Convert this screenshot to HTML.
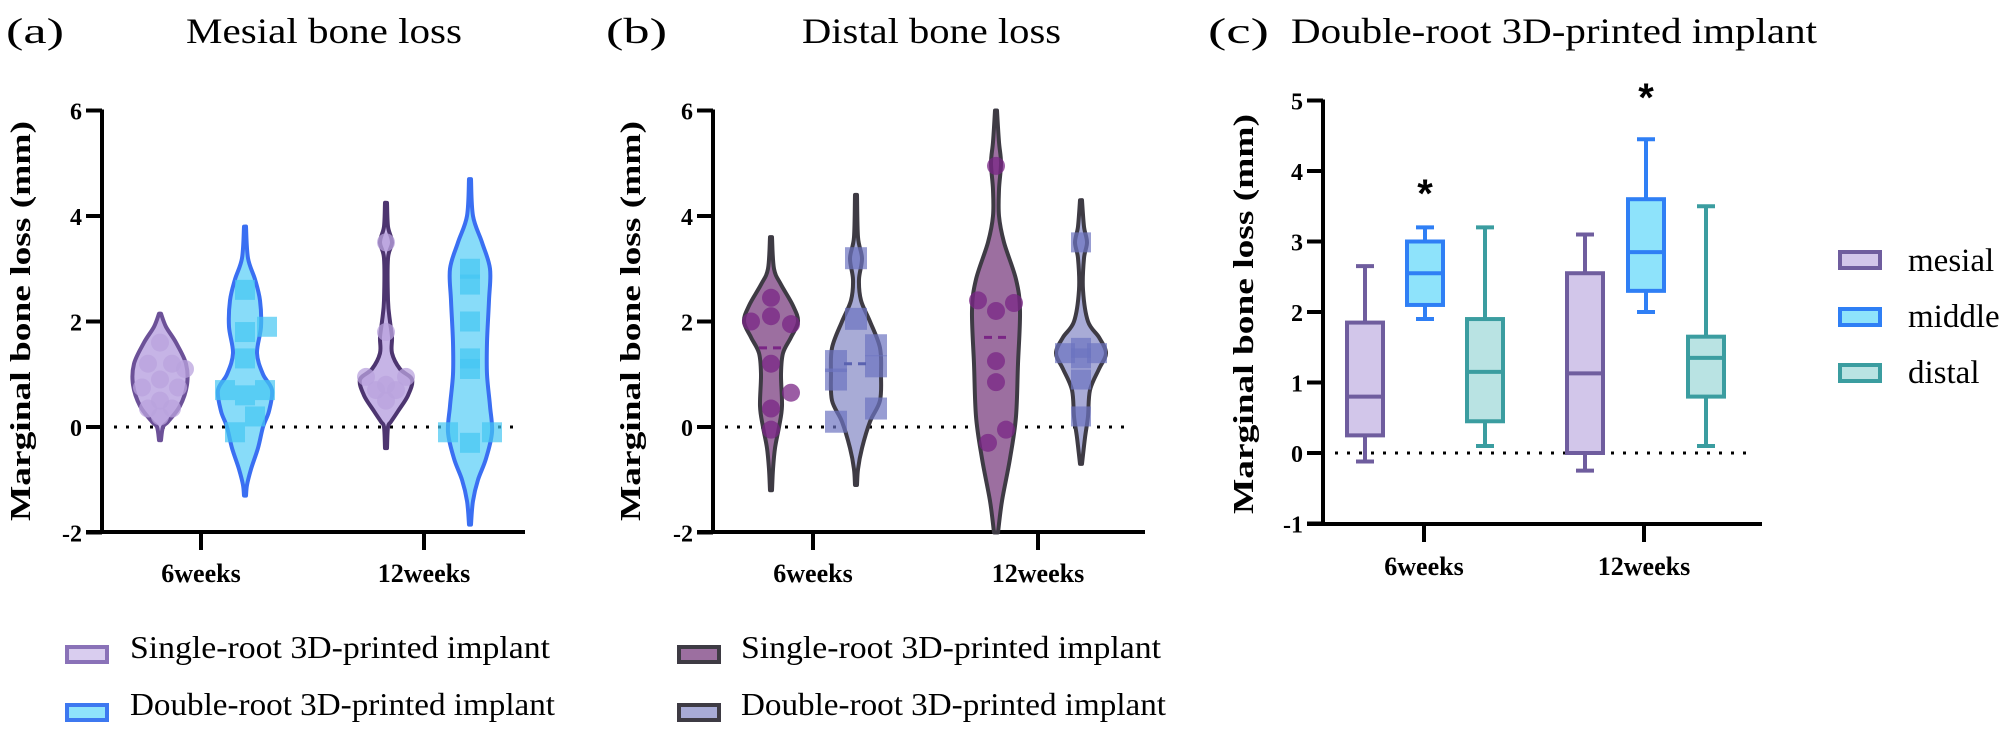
<!DOCTYPE html>
<html><head><meta charset="utf-8"><style>
html,body{margin:0;padding:0;background:#fff;}
svg{display:block;}
text{font-family:"Liberation Serif",serif;}
.t{font-size:36px;}
.b{font-weight:bold;}
</style></head><body>
<svg id="s" width="2012" height="734" viewBox="0 0 2012 734" xmlns="http://www.w3.org/2000/svg">
<!-- titles -->
<text class="t" x="6" y="43" textLength="58" lengthAdjust="spacingAndGlyphs">(a)</text>
<text class="t" x="186" y="43" textLength="276" lengthAdjust="spacingAndGlyphs">Mesial bone loss</text>
<text class="t" x="606" y="43" textLength="61" lengthAdjust="spacingAndGlyphs">(b)</text>
<text class="t" x="802" y="43" textLength="259" lengthAdjust="spacingAndGlyphs">Distal bone loss</text>
<text class="t" x="1208" y="43" textLength="61" lengthAdjust="spacingAndGlyphs">(c)</text>
<text class="t" x="1291" y="43" textLength="526" lengthAdjust="spacingAndGlyphs">Double-root 3D-printed implant</text>

<!-- y labels -->
<text class="b" font-size="28" transform="translate(30,321) rotate(-90)" text-anchor="middle" textLength="400" lengthAdjust="spacingAndGlyphs">Marginal bone loss (mm)</text>
<text class="b" font-size="28" transform="translate(640,321) rotate(-90)" text-anchor="middle" textLength="400" lengthAdjust="spacingAndGlyphs">Marginal bone loss (mm)</text>
<text class="b" font-size="28" transform="translate(1253,314) rotate(-90)" text-anchor="middle" textLength="400" lengthAdjust="spacingAndGlyphs">Marginal bone loss (mm)</text>

<g id="plots"></g>

<!-- x labels -->
<g class="b" font-size="26" text-anchor="middle">
<text x="201" y="582">6weeks</text><text x="424" y="582">12weeks</text>
<text x="813" y="582">6weeks</text><text x="1038" y="582">12weeks</text>
<text x="1424" y="575">6weeks</text><text x="1644" y="575">12weeks</text>
</g>

<!-- legends a/b -->
<g font-size="32">
<rect x="67" y="647" width="40" height="15" fill="#d9cdef" stroke="#8a72b8" stroke-width="4"/>
<text x="130" y="658" textLength="420" lengthAdjust="spacingAndGlyphs">Single-root 3D-printed implant</text>
<rect x="67" y="705" width="40" height="15" fill="#8fe3fb" stroke="#3d78f0" stroke-width="4"/>
<text x="130" y="715" textLength="425" lengthAdjust="spacingAndGlyphs">Double-root 3D-printed implant</text>
<rect x="679" y="647" width="40" height="15" fill="#9c6fa0" stroke="#3e3b44" stroke-width="4"/>
<text x="741" y="658" textLength="420" lengthAdjust="spacingAndGlyphs">Single-root 3D-printed implant</text>
<rect x="679" y="705" width="40" height="15" fill="#a8abd6" stroke="#3e3b44" stroke-width="4"/>
<text x="741" y="715" textLength="425" lengthAdjust="spacingAndGlyphs">Double-root 3D-printed implant</text>
</g>
<!-- legend c -->
<g font-size="33">
<rect x="1840" y="252" width="40" height="16" fill="#d2c6ea" stroke="#6f5d9e" stroke-width="4"/>
<text x="1908" y="271">mesial</text>
<rect x="1840" y="309" width="40" height="16" fill="#8ee3fb" stroke="#2f7ff5" stroke-width="4"/>
<text x="1908" y="327">middle</text>
<rect x="1840" y="365" width="40" height="16" fill="#b9e3e3" stroke="#3b9da0" stroke-width="4"/>
<text x="1908" y="383">distal</text>
</g>
<g font-size="40" class="b" text-anchor="middle" font-family="Liberation Sans, sans-serif">
<text x="1425" y="207" style="font-family:'Liberation Sans',sans-serif">*</text>
<text x="1646" y="111" style="font-family:'Liberation Sans',sans-serif">*</text>
</g>
</svg>
<script>
(function(){
var NS="http://www.w3.org/2000/svg", g=document.getElementById("plots");
function el(n,a){var e=document.createElementNS(NS,n);for(var k in a)e.setAttribute(k,a[k]);g.appendChild(e);return e;}
function txt(x,y,s,anchor,size){var e=el("text",{x:x,y:y,"text-anchor":anchor||"end","font-size":size||24,"font-weight":"bold"});e.textContent=s;}
// axes
function axes(ax,y0,yPer,vals,xEnd,ticks,yBottom){
  el("line",{x1:ax,y1:y0-yPer*vals[vals.length-1]-1,x2:ax,y2:yBottom+2,stroke:"#000","stroke-width":4});
  el("line",{x1:ax-16,y1:yBottom,x2:xEnd,y2:yBottom,stroke:"#000","stroke-width":4});
  vals.forEach(function(v){var y=y0-yPer*v;el("line",{x1:ax-16,y1:y,x2:ax,y2:y,stroke:"#000","stroke-width":4});txt(ax-20,y+9,String(v));});
  ticks.forEach(function(x){el("line",{x1:x,y1:yBottom,x2:x,y2:yBottom+18,stroke:"#000","stroke-width":4});});
  el("line",{x1:ax+12,y1:y0,x2:xEnd-12,y2:y0,stroke:"#000","stroke-width":3,"stroke-dasharray":"3,9"});
}
// smooth violin
function violin(cx,y0,yPer,prof,fill,stroke,sw){
  // prof: [[v,hw],...] from top to bottom
  var R=[],L=[];
  prof.forEach(function(p){R.push([cx+p[1],y0-yPer*p[0]]);});
  function cr(pts){var d="";for(var i=0;i<pts.length-1;i++){var p0=pts[i-1]||pts[i],p1=pts[i],p2=pts[i+1],p3=pts[i+2]||p2;
    var c1=[p1[0]+(p2[0]-p0[0])/6,p1[1]+(p2[1]-p0[1])/6],c2=[p2[0]-(p3[0]-p1[0])/6,p2[1]-(p3[1]-p1[1])/6];
    d+=" C"+c1[0].toFixed(1)+","+c1[1].toFixed(1)+" "+c2[0].toFixed(1)+","+c2[1].toFixed(1)+" "+p2[0].toFixed(1)+","+p2[1].toFixed(1);}return d;}
  var right=R, left=prof.slice().reverse().map(function(p){return [cx-p[1],y0-yPer*p[0]];});
  var d="M"+right[0][0]+","+right[0][1]+cr(right)+" L"+left[0][0]+","+left[0][1]+cr(left)+" Z";
  el("path",{d:d,fill:fill,stroke:stroke,"stroke-width":sw||4,"stroke-linejoin":"round"});
}
function pts(cx,y0,yPer,arr,shape,col,size){
  arr.forEach(function(p){var x=cx+p[0],y=y0-yPer*p[1];
    if(shape=="c")el("circle",{cx:x,cy:y,r:size,fill:col,"fill-opacity":0.75});
    else el("rect",{x:x-size,y:y-size,width:2*size,height:2*size,fill:col,"fill-opacity":0.7});});
}
function med(cx,y,w,col){el("line",{x1:cx-w,y1:y,x2:cx+w,y2:y,stroke:col,"stroke-width":3,"stroke-dasharray":"8,6"});}

var Y0=427,YP=52.75;
// ---------- Panel A
axes(102,Y0,YP,[-2,0,2,4,6],525,[201,424],532);
violin(160,Y0,YP,[[2.15,1],[1.9,6],[1.6,16],[1.2,26],[0.8,27],[0.4,20],[0.1,8],[0,3],[-0.25,1]],"#c6b4e6","#6c5198",4);
pts(160,Y0,YP,[[0,1.6],[-12,1.2],[12,1.2],[25,1.1],[0,0.9],[-18,0.75],[18,0.75],[0,0.5],[-12,0.35],[12,0.35],[0,0.2]],"c","#b9a3de",9);
violin(245,Y0,YP,[[3.8,1],[3.2,3],[2.8,10],[2.4,15],[1.9,16],[1.4,12],[1.0,18],[0.7,27],[0.3,24],[0,18],[-0.4,13],[-0.8,6],[-1.1,2],[-1.3,1]],"#88dcf9","#3a6ff2",4);
pts(245,Y0,YP,[[0,2.6],[0,1.8],[22,1.9],[0,1.3],[-20,0.7],[20,0.7],[0,0.6],[10,0.2],[-10,-0.1]],"s","#45c6f2",10);
violin(386,Y0,YP,[[4.25,1],[3.8,2],[3.5,6],[3.2,2],[2.4,2],[2.0,4],[1.7,6],[1.4,6],[1.1,14],[0.9,26],[0.6,22],[0.3,12],[0.1,5],[0,2],[-0.4,1]],"#c6b4e6","#4d3570",4);
pts(386,Y0,YP,[[0,3.5],[0,1.8],[-20,0.95],[20,0.95],[0,0.8],[-10,0.7],[10,0.7],[0,0.5]],"c","#b9a3de",9);
violin(470,Y0,YP,[[4.7,1],[4.0,3],[3.5,12],[3.0,20],[2.4,19],[1.6,17],[1.0,17],[0.4,20],[-0.1,22],[-0.6,16],[-1.0,8],[-1.4,3],[-1.85,1]],"#88dcf9","#3a6ff2",4);
pts(470,Y0,YP,[[0,3.0],[0,2.7],[0,2.0],[0,1.3],[0,1.1],[-22,-0.1],[22,-0.1],[0,-0.3]],"s","#45c6f2",10);

// ---------- Panel B
axes(713,Y0,YP,[-2,0,2,4,6],1145,[813,1038],532);
violin(771,Y0,YP,[[3.6,1],[3.0,3],[2.7,10],[2.3,22],[2.0,27],[1.7,20],[1.4,12],[1.0,10],[0.4,11],[0,8],[-0.4,4],[-0.8,2],[-1.2,1]],"#9c6fa0","#3e3b44",4);
pts(771,Y0,YP,[[0,2.45],[0,2.1],[-20,2.0],[20,1.95],[0,1.2],[20,0.65],[0,0.35],[0,-0.05]],"c","#7a2585",9);
med(771,Y0-YP*1.5,12,"#7a2585");
violin(856,Y0,YP,[[4.4,1],[3.6,2],[3.2,6],[2.8,3],[2.4,5],[2.0,14],[1.5,24],[1.0,25],[0.5,24],[0.1,14],[-0.4,6],[-0.8,2],[-1.1,1]],"#a8abd6","#3e3b44",4);
pts(856,Y0,YP,[[0,3.2],[0,2.05],[-20,1.25],[20,1.55],[20,1.15],[-20,0.9],[20,0.35],[-20,0.1]],"s","#6c74c0",11);
med(856,Y0-YP*1.2,12,"#5a62b0");
violin(996,Y0,YP,[[6.0,1],[5.4,3],[5.0,5],[4.5,3],[4.0,3],[3.5,8],[2.8,20],[2.2,24],[1.2,22],[0.2,20],[-0.6,14],[-1.4,6],[-2.0,2]],"#9c6fa0","#3e3b44",4);
pts(996,Y0,YP,[[0,4.95],[-18,2.4],[18,2.35],[0,2.2],[0,1.25],[0,0.85],[10,-0.05],[-8,-0.3]],"c","#7a2585",9);
med(996,Y0-YP*1.7,12,"#7a2585");
violin(1081,Y0,YP,[[4.3,1],[3.8,3],[3.5,6],[3.2,3],[2.6,2],[2.0,7],[1.7,18],[1.4,25],[1.1,18],[0.7,9],[0.2,7],[-0.2,4],[-0.7,1]],"#a8abd6","#3e3b44",4);
pts(1081,Y0,YP,[[0,3.5],[-16,1.4],[16,1.4],[0,1.5],[0,1.3],[0,0.9],[0,0.2]],"s","#6c74c0",10);

// ---------- Panel C
var C0=453,CP=70.5;
axes(1323,C0,CP,[-1,0,1,2,3,4,5],1762,[1424,1644],524);
function box(cx,lo,q1,m,q3,hi,fill,stroke){
  var w=18,y=function(v){return C0-CP*v;};
  el("line",{x1:cx,y1:y(hi),x2:cx,y2:y(lo),stroke:stroke,"stroke-width":4});
  el("line",{x1:cx-9,y1:y(hi),x2:cx+9,y2:y(hi),stroke:stroke,"stroke-width":4});
  el("line",{x1:cx-9,y1:y(lo),x2:cx+9,y2:y(lo),stroke:stroke,"stroke-width":4});
  el("rect",{x:cx-w,y:y(q3),width:2*w,height:y(q1)-y(q3),fill:fill,stroke:stroke,"stroke-width":4});
  el("line",{x1:cx-w,y1:y(m),x2:cx+w,y2:y(m),stroke:stroke,"stroke-width":4});
}
box(1365,-0.12,0.25,0.8,1.85,2.65,"#d2c6ea","#6f5d9e");
box(1425,1.9,2.1,2.55,3.0,3.2,"#8ee3fb","#2f7ff5");
box(1485,0.1,0.45,1.15,1.9,3.2,"#b9e3e3","#3b9da0");
box(1585,-0.25,0,1.13,2.55,3.1,"#d2c6ea","#6f5d9e");
box(1646,2.0,2.3,2.85,3.6,4.45,"#8ee3fb","#2f7ff5");
box(1706,0.1,0.8,1.35,1.65,3.5,"#b9e3e3","#3b9da0");
})();
</script>
</body></html>
